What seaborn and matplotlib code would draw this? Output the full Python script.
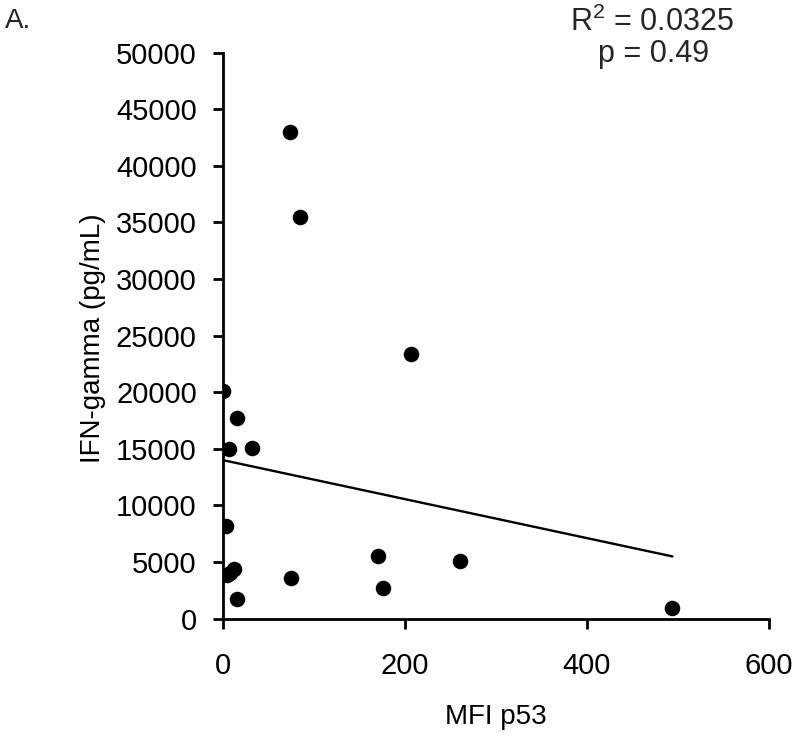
import numpy as np
import pandas as pd
import seaborn as sns
import matplotlib.pyplot as plt

# values
mfi_p53 = [73, 84, 206, 0, 15, 6, 32, 3, 12, 4, 8, 15, 75, 170, 176, 260, 494]
ifn_gamma = [43000, 35500, 23400, 20100, 17700, 15000, 15050, 8200,
             4400, 3850, 4000, 1700, 3600, 5500, 2700, 5100, 900]
x_ticks = [0, 200, 400, 600]
y_ticks = list(range(0, 50001, 5000))
r2_text = "R$^2$ = 0.0325"
p_text = "p = 0.49"

df = pd.DataFrame({"MFI p53": mfi_p53, "IFN-gamma (pg/mL)": ifn_gamma})

sns.set_style("ticks")
plt.rcParams["font.family"] = ["Liberation Sans", "DejaVu Sans"]
plt.rcParams["mathtext.fontset"] = "custom"
plt.rcParams["mathtext.rm"] = "Liberation Sans"

fig = plt.figure(figsize=(8, 7.42), dpi=100)
ax = fig.add_axes([0.279, 0.1664, 0.682, 0.7628])

sns.regplot(data=df, x="MFI p53", y="IFN-gamma (pg/mL)", ci=None, ax=ax,
            scatter_kws={"s": 125, "color": "black", "alpha": 1,
                         "linewidths": 0, "zorder": 3},
            line_kws={"color": "black", "linewidth": 1.7})

ax.set_xlim(0, 600)
ax.set_ylim(0, 50000)
ax.set_xticks(x_ticks)
ax.set_yticks(y_ticks)
ax.tick_params(axis="both", direction="out", length=7, width=2,
               labelsize=21, colors="black")
ax.tick_params(axis="x", pad=17)
ax.tick_params(axis="y", pad=12)
for side in ["left", "bottom"]:
    ax.spines[side].set_linewidth(2)
    ax.spines[side].set_color("black")
sns.despine(ax=ax)
for sp in ax.spines.values():
    sp.set_clip_on(False)

ax.set_xlabel("MFI p53", fontsize=20, color="black")
ax.set_ylabel("IFN-gamma (pg/mL)", fontsize=20, color="black")
ax.xaxis.set_label_coords(0.5, -0.151)
ax.yaxis.set_label_coords(-0.214, 0.496)

fig.text(0.006, 0.972, "A.", fontsize=20, ha="left", va="center")
fig.text(0.815, 0.970, r2_text, fontsize=22, ha="center", va="center")
fig.text(0.817, 0.927, p_text, fontsize=22, ha="center", va="center")

fig.savefig("out.png", dpi=100)
